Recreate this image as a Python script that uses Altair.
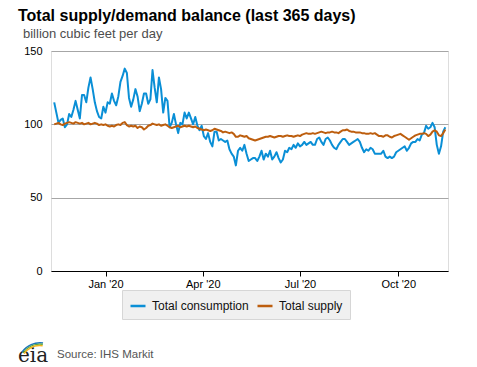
import altair as alt
import pandas as pd

# ---- data ----
start_date = "2019-11-14"
step_days = 2
series_names = ["Total consumption", "Total supply"]
series_colors = ["#0a8fd6", "#bd5e0e"]

consumption = [
    115, 108, 101, 103, 104, 98, 100, 107, 105, 110,
    116, 110, 104, 120, 120, 115, 125, 132, 124, 115,
    109, 105, 104, 112, 108, 115, 114, 121, 116, 113,
    119, 129, 133, 138, 135, 118, 112, 117, 124, 119,
    109, 114, 121, 121, 114, 117, 137, 125, 115, 132,
    124, 108, 118, 116, 98, 101, 107, 100, 94, 101,
    100, 108, 104, 108, 104, 100, 105, 99, 96, 99,
    92, 90, 94, 88, 85, 95, 95, 89, 90, 89,
    88, 89, 83, 80, 78, 72, 82, 84, 82, 86,
    80, 75, 76, 77, 77, 75, 78, 82, 76, 80,
    78, 82, 76, 78, 81, 77, 74, 76, 82, 81,
    84, 83, 86, 84, 87, 85, 86, 88, 86, 87,
    88, 86, 86, 90, 91, 88, 86, 90, 91, 89,
    86, 84, 83, 86, 88, 90, 90, 88, 86, 87,
    88, 89, 90, 88, 84, 81, 83, 82, 84, 83,
    80, 80, 80, 80, 82, 78, 77, 78, 77, 78,
    81, 82, 83, 84, 85, 82, 84, 87, 88, 88,
    90, 89, 93, 94, 99, 97, 98, 101, 98, 86,
    80, 85, 95, 98,
]

supply = [
    100, 100.5, 101, 100, 99.5, 100.5, 101, 101.5, 101, 100.5,
    101.5, 101, 100.5, 101, 100, 100.5, 101, 100, 100.5, 101,
    100.5, 99.5, 100, 99.5, 100, 99, 98.5, 99, 98.5, 99.5,
    100, 99.5, 101, 101.5, 99.5, 98.5, 99, 98.5, 99, 97.5,
    98.5, 98, 96.5, 97.5, 99, 99.5, 100.5, 100, 99.5, 100,
    99, 99.5, 100, 99, 98, 97.5, 98, 98.5, 99, 98,
    98.5, 99, 98.5, 99, 98.5, 98, 98.5, 97.5, 97, 96.5,
    96, 96.5, 96, 95.5, 96, 97, 96.5, 96, 95.5, 94.5,
    95, 94.5, 94, 94.5, 93.5, 91.5, 91.5, 92.5, 92, 91.5,
    92, 90.5, 90, 89.5, 89, 89.5, 90, 90.5, 91, 91.5,
    91.5, 92, 91.5, 91, 91.5, 92, 92, 91.5, 92, 92.5,
    92, 92, 91.5, 92, 92.5, 92, 93, 93.5, 94, 93.5,
    93.5, 94, 93.5, 94, 94.5, 95, 94.5, 94, 94.5, 94.5,
    95, 94.5, 94.5, 94, 95, 96, 96, 96.5, 95.5, 95,
    95, 94.5, 94.5, 94.5, 94, 94, 93.5, 93.5, 94, 93.5,
    94, 93, 92, 92, 91.5, 92.5, 92.5, 91.5, 91, 92,
    92.5, 93, 93.5, 92.5, 91.5, 90.5, 89.5, 90.5, 91.5, 92.5,
    93, 93.5, 93.5, 94, 93.5, 92, 93, 95, 96, 95,
    92.5, 92, 94, 96.5,
]

y_ticks = [0, 50, 100, 150]
x_tick_months = [(2020, 1), (2020, 4), (2020, 7), (2020, 10)]
x_domain = [(2019, 11, 11, 0), (2020, 11, 16, 12)]

title_text = "Total supply/demand balance (last 365 days)"
subtitle_text = "billion cubic feet per day"
source_text = "Source: IHS Markit"
logo_text = "eia"
logo_colors = ["#1b75bb", "#5aa843", "#f0b41c"]

# ---- build table ----
n = len(consumption)
dates = pd.date_range(start_date, periods=n, freq=f"{step_days}D")
df = pd.DataFrame({
    "date": list(dates) + list(dates),
    "value": consumption + supply,
    "series": [series_names[0]] * n + [series_names[1]] * len(supply),
})

FONT = "Liberation Sans"

lines = alt.Chart(df).mark_line(strokeWidth=2, strokeJoin="round").encode(
    x=alt.X(
        "date:T",
        scale=alt.Scale(domain=[alt.DateTime(year=y, month=m, date=d, hours=h) for (y, m, d, h) in x_domain]),
        axis=alt.Axis(
            values=[alt.DateTime(year=y, month=m, date=1) for (y, m) in x_tick_months],
            format="%b '%y", title=None, grid=False,
            domainColor="#000", domainWidth=1.2, tickColor="#000", tickSize=5,
            labelFontSize=11, labelColor="#000", labelPadding=2, labelFont=FONT,
        ),
    ),
    y=alt.Y(
        "value:Q",
        scale=alt.Scale(domain=[0, 150]),
        axis=alt.Axis(
            values=y_ticks, title=None, grid=True, gridColor="#a6a6a6",
            ticks=False, domain=False, labelFontSize=11, labelColor="#000",
            labelPadding=9, labelFont=FONT,
        ),
    ),
    color=alt.Color(
        "series:N",
        scale=alt.Scale(domain=series_names, range=series_colors),
        legend=alt.Legend(
            orient="none", legendX=71, legendY=239, direction="horizontal",
            title=None, fillColor="#f0f0f0", strokeColor="#d6d6d6", padding=7,
            symbolType="stroke", symbolSize=225, symbolStrokeWidth=2.5,
            labelFontSize=12, labelFont=FONT, labelColor="#111",
            columnPadding=3, labelOffset=5,
        ),
    ),
)

def text_layer(txt, x, y, **kw):
    return alt.Chart(pd.DataFrame({"t": [txt]})).mark_text(
        align="left", baseline="alphabetic", **kw
    ).encode(text="t:N", x=alt.value(x), y=alt.value(y))

title_l = text_layer(title_text, -33, -30, fontSize=16, fontWeight="bold", font=FONT, color="#000")
subtitle_l = text_layer(subtitle_text, -28, -13, fontSize=13, font=FONT, color="#4d4d4d")
source_l = text_layer(source_text, 6, 307, fontSize=11.5, font=FONT, color="#555")
logo_l = text_layer(logo_text, -33, 311, fontSize=20, font="DejaVu Serif", color="#222")

arc_layers = []
for i, c in enumerate(logo_colors):
    r_out = 23 - i * 1.4
    arc_layers.append(
        alt.Chart(pd.DataFrame({"t": [c]})).mark_arc(
            radius=r_out, radius2=r_out - 1.4, theta=5.33, theta2=6.42, color=c
        ).encode(x=alt.value(-11), y=alt.value(314))
    )

chart = alt.layer(lines, title_l, subtitle_l, source_l, logo_l, *arc_layers).properties(
    width=397, height=220,
    padding={"left": 43, "top": 43, "right": 21, "bottom": 96},
    autosize="none",
).configure_view(stroke=None).configure(font=FONT)

chart.save("out.html", embed_options={"renderer": "svg", "actions": False})
